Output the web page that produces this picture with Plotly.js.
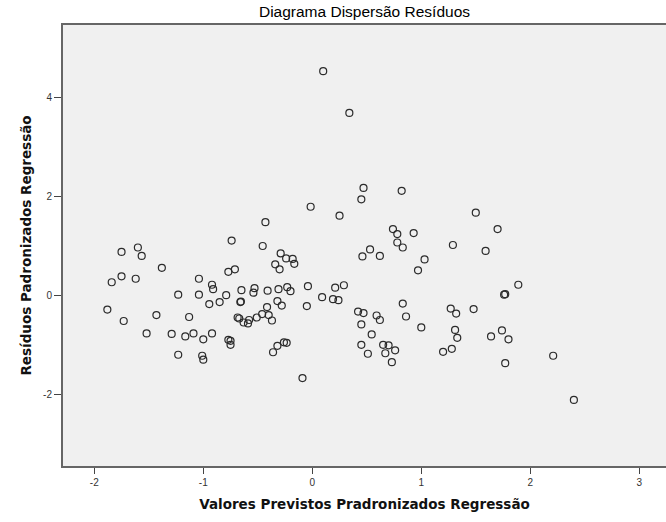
<!DOCTYPE html>
<html>
<head>
<meta charset="utf-8">
<script src="https://cdn.plot.ly/plotly-3.0.1.min.js"></script>
<style>html,body{margin:0;padding:0;background:#fff;}#chart{width:666px;height:522px;}</style>
</head>
<body>
<div id="chart"></div>
<script>
// Standardized predicted values (x)
const predictedStd = [
  0.10, 0.34, 0.47, 0.45, -0.015, 0.25, -0.43, -0.74, -0.455, -1.75,
  -1.60, -1.565, 0.82, 1.50, 1.70, 0.74, 0.78, 0.93, 0.78, 0.83,
  1.29, 1.59, 0.53, 0.46, 0.62, 1.03, 0.97, -0.04, 0.21, 0.29,
  0.09, 0.19, 0.24, -0.05, 1.89, 1.76, 1.77, 0.83, 0.42, 0.47,
  0.59, 0.62, 0.86, 0.45, 1.00, 1.27, 1.32, 1.48, 1.31, 1.33,
  1.74, 1.64, 1.80, 0.545, 0.45, 0.51, 0.65, 0.70, 0.67, 0.76,
  0.73, 1.20, 1.28, 1.77, 2.21, 2.40, -0.09, -1.38, -1.84, -1.75,
  -1.62, -1.88, -1.73, -1.43, -1.52, -1.29, -1.23, -1.165, -1.09, -1.13,
  -1.23, -1.01, -1.00, -1.00, -0.92, -1.04, -1.04, -0.92, -0.91, -0.945,
  -0.85, -0.79, -0.77, -0.71, -0.65, -0.66, -0.655, -0.54, -0.53, -0.41,
  -0.415, -0.31, -0.23, -0.20, -0.32, -0.28, -0.46, -0.40, -0.37, -0.51,
  -0.685, -0.67, -0.63, -0.59, -0.58, -0.77, -0.75, -0.75, -0.32, -0.36,
  -0.26, -0.235, -0.29, -0.24, -0.18, -0.165, -0.34, -0.30
];
// Standardized residuals (y)
const residualStd = [
  4.52, 3.68, 2.17, 1.94, 1.79, 1.61, 1.48, 1.11, 1.00, 0.88,
  0.97, 0.80, 2.11, 1.67, 1.34, 1.34, 1.24, 1.26, 1.07, 0.97,
  1.02, 0.90, 0.93, 0.79, 0.80, 0.73, 0.51, 0.19, 0.16, 0.21,
  -0.03, -0.07, -0.09, -0.21, 0.22, 0.02, 0.03, -0.16, -0.32, -0.35,
  -0.40, -0.49, -0.42, -0.58, -0.64, -0.26, -0.36, -0.27, -0.69, -0.85,
  -0.70, -0.82, -0.88, -0.78, -0.99, -1.17, -0.99, -1.00, -1.16, -1.10,
  -1.34, -1.13, -1.07, -1.36, -1.21, -2.10, -1.66, 0.56, 0.27, 0.39,
  0.34, -0.28, -0.51, -0.39, -0.76, -0.77, 0.02, -0.82, -0.76, -0.43,
  -1.19, -1.21, -1.29, -0.88, -0.76, 0.34, 0.02, 0.22, 0.13, -0.17,
  -0.13, 0.01, 0.48, 0.53, 0.11, -0.13, -0.12, 0.06, 0.15, 0.10,
  -0.23, 0.13, 0.17, 0.09, -0.11, -0.20, -0.37, -0.39, -0.50, -0.44,
  -0.44, -0.46, -0.54, -0.56, -0.49, -0.89, -0.91, -0.99, -1.01, -1.14,
  -0.94, -0.95, 0.85, 0.75, 0.74, 0.64, 0.63, 0.53
];
const xTicks = [-2, -1, 0, 1, 2, 3];
const yTicks = [-2, 0, 2, 4];

const trace = {
  type: 'scatter',
  mode: 'markers',
  x: predictedStd,
  y: residualStd,
  marker: {
    symbol: 'circle-open',
    size: 7,
    color: '#2b2b2b',
    line: {width: 1.2, color: '#2b2b2b'}
  },
  hoverinfo: 'x+y',
  showlegend: false
};

const axisFont = {family: 'Arial, "Liberation Sans", sans-serif', size: 10, color: '#333'};
const titleFont = {family: '"DejaVu Sans", sans-serif', size: 13.5, color: '#111', weight: 'bold'};

const layout = {
  width: 666,
  height: 522,
  margin: {l: 63, r: 0, t: 25, b: 56},
  paper_bgcolor: '#ffffff',
  plot_bgcolor: '#f0f0f0',
  title: {
    text: 'Diagrama Dispersão Resíduos',
    font: {family: 'Arial, "Liberation Sans", sans-serif', size: 15.5, color: '#000'},
    x: 0.5, xref: 'paper', xanchor: 'center',
    y: 1 - 12/522, yref: 'container', yanchor: 'middle'
  },
  xaxis: {
    range: [-2.287, 3.245],
    tickvals: xTicks,
    ticktext: xTicks.map(String),
    ticks: 'outside', ticklen: 6, tickwidth: 1, tickcolor: '#444',
    showgrid: false, zeroline: false,
    showline: true, linecolor: '#666', linewidth: 2, mirror: true,
    tickfont: axisFont,
    title: {text: 'Valores Previstos Pradronizados Regressão', font: titleFont, standoff: 13}
  },
  yaxis: {
    range: [-3.43, 5.45],
    tickvals: yTicks,
    ticktext: yTicks.map(String),
    ticks: 'outside', ticklen: 7, tickwidth: 1, tickcolor: '#444',
    showgrid: false, zeroline: false,
    showline: true, linecolor: '#666', linewidth: 2, mirror: false,
    tickfont: axisFont,
    title: {text: 'Resíduos Padronizados Regressão', font: titleFont, standoff: 8}
  }
};

Plotly.newPlot('chart', [trace], layout, {displayModeBar: false, staticPlot: true});
</script>
</body>
</html>
